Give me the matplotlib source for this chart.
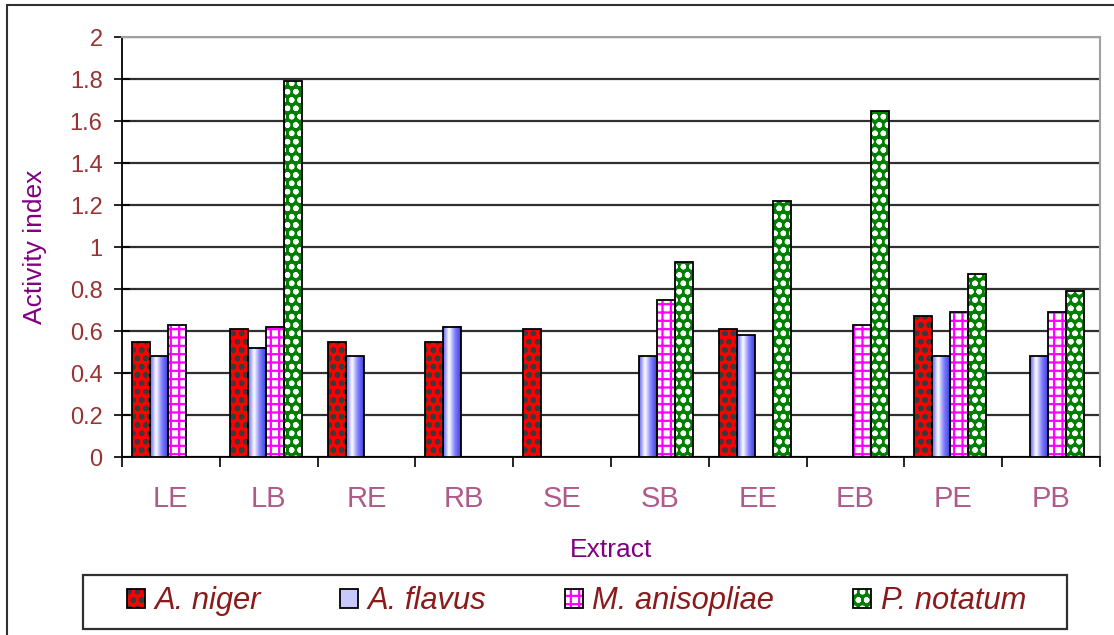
import numpy as np
import matplotlib.pyplot as plt
from matplotlib.patches import Patch, Rectangle
from matplotlib.legend_handler import HandlerTuple
from matplotlib.colors import LinearSegmentedColormap

plt.rcParams['font.family'] = ['Liberation Sans', 'DejaVu Sans']

# data
extracts = ['LE', 'LB', 'RE', 'RB', 'SE', 'SB', 'EE', 'EB', 'PE', 'PB']
a_niger = [0.55, 0.61, 0.55, 0.55, 0.61, 0, 0.61, 0, 0.67, 0]
a_flavus = [0.48, 0.52, 0.48, 0.62, 0, 0.48, 0.58, 0, 0.48, 0.48]
m_anisopliae = [0.63, 0.62, 0, 0, 0, 0.75, 0, 0.63, 0.69, 0.69]
p_notatum = [0, 1.79, 0, 0, 0, 0.93, 1.22, 1.65, 0.87, 0.79]
series_names = ['A. niger', 'A. flavus', 'M. anisopliae', 'P. notatum']
y_ticks = [0, 0.2, 0.4, 0.6, 0.8, 1, 1.2, 1.4, 1.6, 1.8, 2]

W, H = 1114, 635
fig = plt.figure(figsize=(W / 100, H / 100), dpi=100)
fig.patch.set_facecolor('white')
ax = fig.add_axes([122 / W, 1 - 457 / H, (1100 - 122) / W, (457 - 37) / H])

# outer chart border (runs off the right and bottom)
fig.patches.append(Rectangle((7 / W, -0.05), 1.2, 1.05 - 5 / H, transform=fig.transFigure,
                             fill=False, edgecolor='#303030', lw=1.5))
# legend box
fig.patches.append(Rectangle((83 / W, 1 - 629 / H), (1067 - 83) / W, 54 / H,
                             transform=fig.transFigure, fill=False,
                             edgecolor='#303030', lw=1.6))

x = np.arange(len(extracts))
w = 0.184
off = -0.03
blue_cmap = LinearSegmentedColormap.from_list('bl', ['#6060ff', '#ffffff', '#8080ff', '#4040e0'])
grad = np.linspace(0, 1, 64).reshape(1, -1)

# (face, hatch, hatch colour)
styles = [('#ff0000', 'oo', '#3a3a3a'),
          (None, None, None),
          ('white', '++', '#ff00ff'),
          ('#008000', 'oo', 'white')]
all_vals = [a_niger, a_flavus, m_anisopliae, p_notatum]

plt.rcParams['hatch.linewidth'] = 1.6
for i, vals in enumerate(all_vals):
    face, hatch, hcol = styles[i]
    for j, v in enumerate(vals):
        if v <= 0:
            continue
        x0 = x[j] + off + (i - 2) * w
        if face is None:
            ax.imshow(grad, extent=[x0, x0 + w, 0, v], aspect='auto', cmap=blue_cmap,
                      zorder=3, interpolation='bicubic')
        else:
            ax.bar(x0, v, w, align='edge', color=face, hatch=hatch, edgecolor=hcol,
                   linewidth=0, zorder=3)
        ax.bar(x0, v, w, align='edge', fill=False, edgecolor='black', linewidth=1.3, zorder=4)

ax.set_xlim(-0.5, len(extracts) - 0.5)
ax.set_ylim(0, 2)
ax.set_yticks(y_ticks)
ax.set_yticklabels([f'{t:g}' for t in y_ticks], color='#993333', fontsize=17)
ax.set_xticks(x)
ax.set_xticklabels(extracts, color='#b05a8a', fontsize=21)
ax.set_xticks(np.arange(len(extracts) + 1) - 0.5, minor=True)
ax.tick_params(axis='x', which='major', length=0, pad=20)
ax.tick_params(axis='x', which='minor', length=7, width=1.2, direction='out')
ax.tick_params(axis='y', length=12, width=1.2, direction='inout', pad=8)
ax.grid(axis='y', color='#303030', lw=1.6, zorder=1)
ax.set_axisbelow(True)
for s in ['top', 'right']:
    ax.spines[s].set_color('#a0a0a0')
    ax.spines[s].set_linewidth(1.5)
for s in ['left', 'bottom']:
    ax.spines[s].set_color('black')
    ax.spines[s].set_linewidth(1.3)

ax.set_ylabel('Activity index', color='#800080', fontsize=19, labelpad=16)
ax.set_xlabel('Extract', color='#800080', fontsize=19, labelpad=18)

# legend
handles = []
for i in range(4):
    face, hatch, hcol = styles[i]
    outline = Patch(fill=False, edgecolor='black', lw=1.3)
    if face is None:
        fillp = Patch(facecolor='#c8c8ff', edgecolor='#6060ff', lw=0)
    else:
        fillp = Patch(facecolor=face, hatch=hatch, edgecolor=hcol, lw=0)
    handles.append((fillp, outline))
leg = fig.legend(handles, series_names, handler_map={tuple: HandlerTuple(ndivide=1, pad=0)},
                 loc='center left', bbox_to_anchor=(127 / W, 1 - 601 / H),
                 ncol=4, frameon=False, borderpad=0, borderaxespad=0,
                 handlelength=0.58, handleheight=0.58, handletextpad=0.32, columnspacing=2.55,
                 prop={'style': 'italic', 'size': 22.2})
for t in leg.get_texts():
    t.set_color('#8b1a1a')

fig.savefig('out.png', dpi=100)
